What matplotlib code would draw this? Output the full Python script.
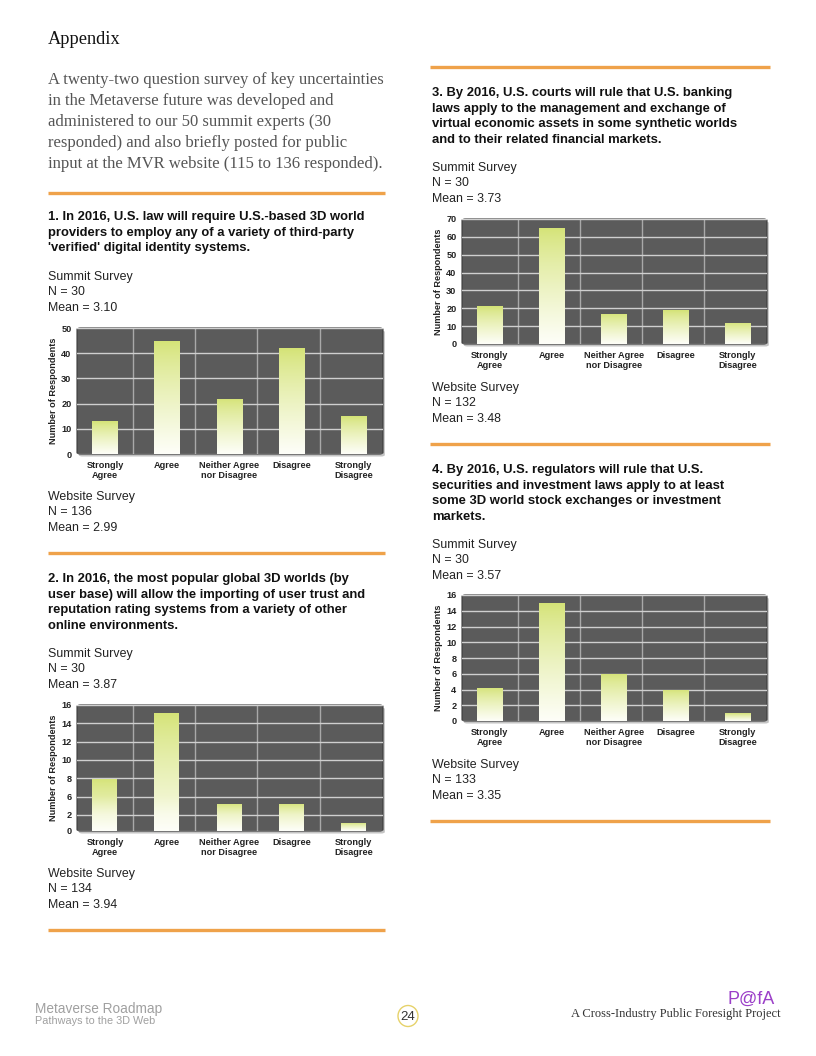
import numpy as np
import matplotlib
matplotlib.use("Agg")
import matplotlib.pyplot as plt
import matplotlib.patches as patches

W, H = 816, 1056

categories = ["Strongly\nAgree", "Agree", "Neither Agree\nnor Disagree", "Disagree", "Strongly\nDisagree"]

q1_values = [13, 45, 22, 42, 15]
q2_values = [8, 15.2, 4.5, 4.5, 1]
q3_values = [21, 65, 17, 19, 12]
q4_values = [4.2, 15, 6, 4, 1]

q1_ticks = [0, 10, 20, 30, 40, 50]
q2_ticks = [0, 2, 6, 8, 10, 12, 14, 16]
q3_ticks = [0, 10, 20, 30, 40, 50, 60, 70]
q4_ticks = [0, 2, 4, 6, 8, 10, 12, 14, 16]

# chart 2 in the source has evenly spaced gridlines with an odd label set
q2_tick_pos = [0, 0.88, 1.88, 2.88, 3.88, 4.88, 5.88, 6.88]

q1_title = ["1. In 2016, U.S. law will require U.S.-based 3D world",
            "providers to employ any of a variety of third-party",
            "'verified' digital identity systems."]
q2_title = ["2. In 2016, the most popular global 3D worlds (by",
            "user base) will allow the importing of user trust and",
            "reputation rating systems from a variety of other",
            "online environments."]
q3_title = ["3. By 2016, U.S. courts will rule that U.S. banking",
            "laws apply to the management and exchange of",
            "virtual economic assets in some synthetic worlds",
            "and to their related financial markets."]
q4_title = ["4. By 2016, U.S. regulators will rule that U.S.",
            "securities and investment laws apply to at least",
            "some 3D world stock exchanges or investment",
            "markets."]

summit = [("N = 30", "Mean = 3.10"), ("N = 30", "Mean = 3.87"),
          ("N = 30", "Mean = 3.73"), ("N = 30", "Mean = 3.57")]
website = [("N = 136", "Mean = 2.99"), ("N = 134", "Mean = 3.94"),
           ("N = 132", "Mean = 3.48"), ("N = 133", "Mean = 3.35")]

intro = ["A twenty-two question survey of key uncertainties",
         "in the Metaverse future was developed and",
         "administered to our 50 summit experts (30",
         "responded) and also briefly posted for public",
         "input at the MVR website (115 to 136 responded)."]

SANS = "Liberation Sans"
SERIF = "Liberation Serif"
ORANGE = "#efa24a"

fig = plt.figure(figsize=(W / 100, H / 100), dpi=100)
fig.patch.set_facecolor("white")


def T(x, y, s, **kw):
    kw.setdefault("va", "center")
    kw.setdefault("family", SANS)
    fig.text(x / W, 1 - y / H, s, **kw)


def hline(x0, x1, y):
    fig.add_artist(plt.Line2D([x0 / W, x1 / W], [1 - y / H, 1 - y / H],
                              color=ORANGE, lw=2.4, solid_capstyle="butt"))


grad = np.linspace(0, 1, 256).reshape(-1, 1)
top_c = np.array([0.830, 0.888, 0.455])
bot_c = np.array([0.995, 0.997, 0.975])
cols = (top_c * (1 - grad[..., None] ** 0.8) + bot_c * grad[..., None] ** 0.8).reshape(256, 1, 3)


def chart(x0, x1, ytop, ybot, values, ticks, tick_pos=None):
    ax = fig.add_axes([x0 / W, 1 - ybot / H, (x1 - x0) / W, (ybot - ytop) / H])
    ax.set_facecolor("none")
    # shadow + rounded dark panel
    ax.add_patch(patches.FancyBboxPatch((0.006, -0.02), 1, 1, boxstyle="round,pad=0,rounding_size=0.012",
                                        transform=ax.transAxes, facecolor="#c4c4c4", edgecolor="none",
                                        zorder=0, clip_on=False))
    ax.add_patch(patches.FancyBboxPatch((0, 0), 1, 1, boxstyle="round,pad=0,rounding_size=0.012",
                                        transform=ax.transAxes, facecolor="#5b5b5b", edgecolor="#3c3c3c",
                                        lw=0.8, zorder=0.5, clip_on=False))
    if tick_pos is not None:
        fwd = lambda v: np.interp(v, ticks, tick_pos)
        inv = lambda v: np.interp(v, tick_pos, ticks)
        ax.set_yscale("function", functions=(fwd, inv))
    ax.set_yticks(ticks)
    ax.set_yticklabels([str(t) for t in ticks])
    ax.yaxis.set_minor_locator(matplotlib.ticker.NullLocator())
    x = np.arange(len(values))
    ax.set_xticks(x)
    ax.set_xticklabels(categories)
    ax.set_xticks(np.arange(4) + 0.45, minor=True)
    ax.grid(axis="y", which="major", color="#cfcfcf", lw=1.0, zorder=1)
    ax.grid(axis="x", which="minor", color="#a9a9a9", lw=1.0, zorder=1)
    ax.grid(axis="x", which="major", visible=False)
    ax.set_axisbelow(True)
    for s in ax.spines.values():
        s.set_visible(False)
    ax.tick_params(axis="both", which="both", length=0)
    ax.tick_params(axis="y", pad=4, labelsize=6.6, labelcolor="#222222")
    ax.tick_params(axis="x", pad=5, labelsize=6.6, labelcolor="#222222")
    for lab in ax.get_xticklabels() + ax.get_yticklabels():
        lab.set_fontweight("bold")
        lab.set_family(SANS)
    bars = ax.bar(x, values, width=0.41, color="none", edgecolor="none", zorder=2)
    for b in bars:
        bx, bw, bh = b.get_x(), b.get_width(), b.get_height()
        im = ax.imshow(cols, extent=[bx, bx + bw, 0, bh], aspect="auto", zorder=3,
                       interpolation="bilinear")
        im.set_clip_path(b)
    ax.set_xlim(-0.45, 4.47)
    ax.set_ylim(ticks[0], ticks[-1])
    ax.set_ylabel("Number of Respondents", fontsize=6.6, fontweight="bold", family=SANS, color="#222222")
    ax.yaxis.set_label_coords(-0.062, 0.5)
    return ax


# header
T(48, 40, "Appendix", family=SERIF, fontsize=13.2, color="#111111")
for i, line in enumerate(intro):
    T(48, 80 + i * 21, line, family=SERIF, fontsize=12.0, color="#555555")
hline(48, 385, 193)


def block(x, ytitle, title, ysum, s_info, ylim_chart, values, ticks, ywsite, w_info, tick_pos=None):
    for i, line in enumerate(title):
        T(x, ytitle + i * 15.6, line, fontsize=9.35, fontweight="bold", color="#111111")
    T(x, ysum, "Summit Survey", fontsize=8.9, color="#222222")
    T(x, ysum + 15.3, s_info[0], fontsize=8.9, color="#222222")
    T(x, ysum + 30.6, s_info[1], fontsize=8.9, color="#222222")
    chart(*ylim_chart, values, ticks, tick_pos)
    T(x, ywsite, "Website Survey", fontsize=8.9, color="#222222")
    T(x, ywsite + 15.3, w_info[0], fontsize=8.9, color="#222222")
    T(x, ywsite + 30.6, w_info[1], fontsize=8.9, color="#222222")


block(48, 217, q1_title, 277, summit[0], (77, 383, 328, 454), q1_values, q1_ticks, 497, website[0])
hline(48, 385, 553)
block(48, 579, q2_title, 654, summit[1], (77, 383, 705, 831), q2_values, q2_ticks, 874, website[1],
      tick_pos=q2_tick_pos)
hline(48, 385, 930)

hline(430, 770, 67)
block(432, 93, q3_title, 168, summit[2], (462, 767, 219, 344), q3_values, q3_ticks, 388, website[2])
hline(430, 770, 444)
block(432, 470, q4_title, 545, summit[3], (462, 767, 595, 721), q4_values, q4_ticks, 765, website[3])
hline(430, 770, 821)

# footer
T(35, 1009.5, "Metaverse Roadmap", fontsize=9.8, color="#a0a0a0")
T(35, 1021.5, "Pathways to the 3D Web", fontsize=7.8, color="#a0a0a0")
fig.add_artist(patches.Ellipse((408 / W, 1 - 1016 / H), 20 / W, 21 / H, transform=fig.transFigure,
                               facecolor="white", edgecolor="#e6d26a", lw=1.0))
T(408, 1016.5, "24", fontsize=9.5, color="#333333", ha="center")
T(775, 999, "P@fA", fontsize=13, color="#9b3fc8", ha="right")
T(781, 1014, "A Cross-Industry Public Foresight Project", family=SERIF, fontsize=9.0,
  color="#333333", ha="right")

fig.savefig("out.png", dpi=100)
